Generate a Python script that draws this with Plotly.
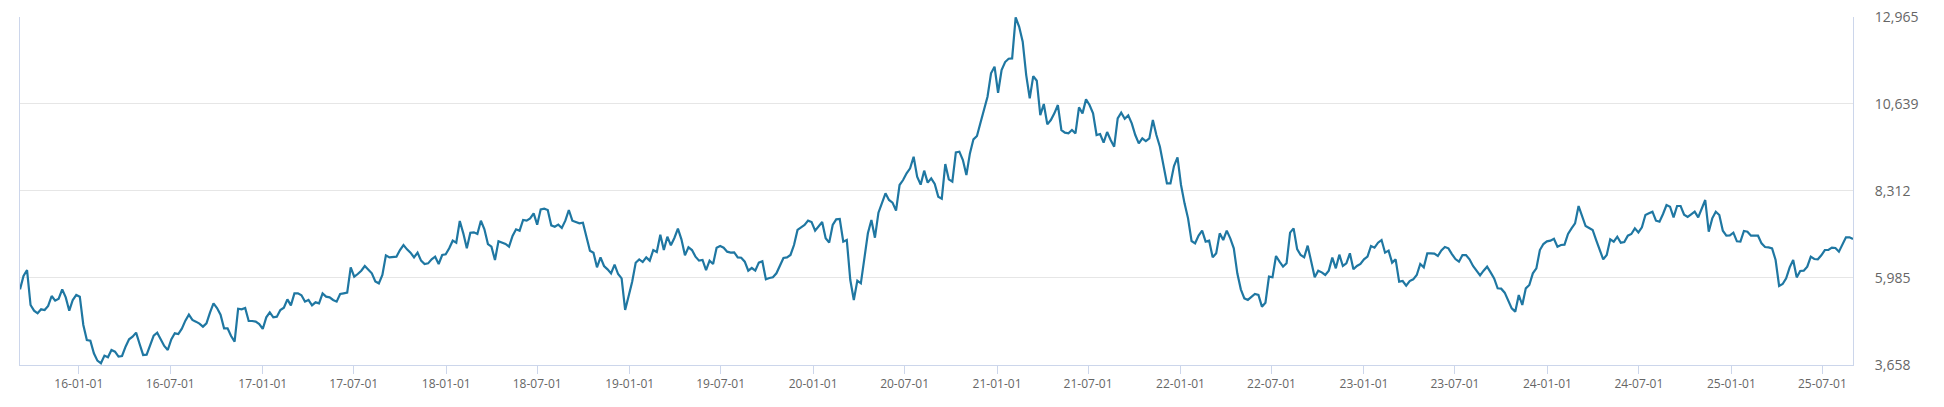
import pandas as pd
import plotly.graph_objects as go

# Weekly index values (start 2015-09-06)
start_date = "2015-09-06"

vals_2015_16 = [5681, 6038, 6198, 5262, 5111, 5040, 5147, 5129, 5236, 5503, 5378, 5432, 5681, 5467, 5111, 5396,
                5530, 5485, 4728, 4327, 4309, 3970, 3774, 3703, 3908, 3863, 4059, 4015, 3881, 3899, 4148, 4344,
                4416, 4523, 4220, 3926, 3934, 4220, 4443, 4523, 4344, 4166, 4059, 4344, 4505, 4487, 4630, 4844,
                5004, 4862, 4817, 4763, 4683, 4772, 5057, 5307, 5182, 5004, 4639, 4639, 4434, 4282, 5164, 5147,
                5182, 4835]
vals_2016_18 = [4835, 4817, 4754, 4621, 4933, 5066, 4933, 4950, 5129, 5191, 5414, 5253, 5574, 5574, 5521, 5352,
                5396, 5253, 5334, 5307, 5574, 5485, 5467, 5396, 5352, 5556, 5574, 5592, 6269, 6020, 6091, 6180,
                6305, 6216, 6109, 5895, 5842, 6065, 6590, 6537, 6537, 6555, 6733, 6867, 6751, 6662, 6537, 6662,
                6448, 6359, 6376, 6483, 6555, 6359, 6599, 6617, 6778, 6983, 6929, 7508, 7179, 6778, 7196, 7205,
                7161, 7517]
vals_2018_19 = [7286, 6894, 6822, 6466, 6965, 6929, 6894, 6822, 7108, 7286, 7250, 7535, 7517, 7580, 7714, 7411,
                7821, 7838, 7803, 7393, 7357, 7411, 7322, 7517, 7803, 7517, 7482, 7446, 7464, 7090, 6715, 6662,
                6270, 6537, 6305, 6216, 6109, 6341, 6091, 5976, 5129, 5503, 5886, 6394, 6484, 6412, 6537, 6448,
                6733, 6680, 7143, 6733, 7090, 6858, 7054, 7304, 7018, 6591, 6805, 6733, 6555, 6448, 6466, 6198,
                6448]
vals_2019_20 = [6359, 6796, 6841, 6796, 6689, 6662, 6671, 6537, 6528, 6421, 6181, 6252, 6181, 6395, 6430, 5949,
                5985, 6003, 6110, 6333, 6520, 6537, 6600, 6867, 7269, 7340, 7402, 7518, 7482, 7251, 7375, 7482,
                7046, 6930, 7402, 7554, 7563, 6956, 7001, 5931, 5397, 5914, 5842, 6555, 7179, 7536, 7063, 7732,
                7981, 8249, 8071, 7999, 7785, 8472, 8605, 8784, 8917, 9229, 8694, 8481, 8855, 8534, 8650, 8498,
                8160]
vals_2020_21 = [8106, 9033, 8623, 8561, 9345, 9363, 9140, 8739, 9318, 9693, 9782, 10138, 10477, 10834, 11458, 11636,
                10940, 11547, 11761, 11850, 11859, 12955, 12705, 12304, 11413, 10789, 11386, 11261, 10343, 10637,
                10094, 10210, 10388, 10611, 9942, 9871, 9853, 9942, 9853, 10548, 10388, 10762, 10611, 10388, 9809,
                9835, 9604, 9889, 9675, 9497, 10254, 10406, 10245, 10334, 10121, 9809, 9586, 9720, 9648, 9720,
                10210, 9809, 9497, 9051, 8516]
vals_2022_23 = [8516, 8980, 9211, 8472, 7981, 7580, 6974, 6912, 7117, 7251, 6956, 6983, 6537, 6644, 7179, 7001,
                7251, 7046, 6778, 6110, 5682, 5441, 5397, 5486, 5557, 5530, 5218, 5325, 6021, 6003, 6573, 6422,
                6288, 6377, 7197, 7313, 6760, 6600, 6537, 6850, 6422, 6003, 6181, 6136, 6065, 6181, 6529, 6243,
                6609, 6306, 6377, 6644, 6217, 6306, 6359, 6484, 6555, 6841, 6796, 6930, 7001, 6662, 6716, 6395,
                6484, 5887]
vals_2023_24 = [5904, 5779, 5904, 5949, 6065, 6359, 6270, 6644, 6644, 6635, 6573, 6724, 6813, 6778, 6626, 6492,
                6421, 6599, 6599, 6483, 6305, 6180, 6056, 6180, 6287, 6136, 5975, 5708, 5699, 5592, 5396, 5173,
                5084, 5530, 5262, 5708, 5797, 6109, 6243, 6733, 6893, 6965, 6983, 7036, 6822, 6867, 6876, 7161,
                7312, 7446, 7909, 7624, 7375, 7321, 7268, 7000, 6733, 6483, 6599, 7018, 6956, 7089, 6929, 6947]
vals_2024_25 = [7116, 7161, 7312, 7205, 7339, 7669, 7714, 7758, 7517, 7491, 7696, 7936, 7892, 7607, 7910, 7910,
                7678, 7616, 7687, 7758, 7607, 7847, 8070, 7223, 7580, 7758, 7669, 7250, 7116, 7125, 7197, 6965,
                6956, 7241, 7223, 7116, 7116, 7116, 6911, 6813, 6804, 6778, 6466, 5770, 5824, 5975, 6270, 6466,
                6002, 6172, 6181, 6288, 6555, 6492, 6484, 6591, 6733, 6733, 6795, 6787, 6689, 6867, 7072, 7072,
                7027]

values = (vals_2015_16 + vals_2016_18 + vals_2018_19 + vals_2019_20 + vals_2020_21
          + vals_2022_23 + vals_2023_24 + vals_2024_25)
dates = pd.date_range(start_date, periods=len(values), freq="7D")

y_ticks = [3658, 5985, 8312, 10639, 12965]
y_tick_labels = ["3,658", "5,985", "8,312", "10,639", "12,965"]

fig = go.Figure()
fig.add_trace(go.Scatter(
    x=dates, y=values, mode="lines",
    line=dict(color="#1f77a2", width=2.2),
    hoverinfo="x+y", showlegend=False,
))

# the page body adds an 8px margin, so the figure is 16px smaller than the window
fig.update_layout(
    width=1936, height=399,
    margin=dict(l=12, r=91, t=9, b=42, autoexpand=False),
    paper_bgcolor="white", plot_bgcolor="white",
    font=dict(family="Open Sans, DejaVu Sans, sans-serif", color="#666666"),
)
fig.update_xaxes(
    type="date",
    range=[dates[0], dates[-1]],
    tick0="2016-01-01", dtick="M6", tickformat="%y-%m-%d",
    ticks="outside", ticklen=8, tickcolor="#ccd6eb", tickwidth=1,
    showgrid=False, showline=True, linecolor="#ccd6eb", linewidth=1,
    tickfont=dict(size=12, color="#666666"),
    zeroline=False, automargin=False, ticklabeloverflow="allow",
)
fig.update_yaxes(
    side="right",
    range=[3657.5, 12965.5],
    tickvals=y_ticks, ticktext=y_tick_labels,
    showgrid=True, gridcolor="#e6e6e6", gridwidth=1,
    showline=True, linecolor="#ccd6eb", linewidth=1, mirror=True,
    ticks="", ticklabelstandoff=18,
    tickfont=dict(size=14, color="#666666"),
    zeroline=False, automargin=False, ticklabeloverflow="allow",
)

fig.write_html("out.html")
